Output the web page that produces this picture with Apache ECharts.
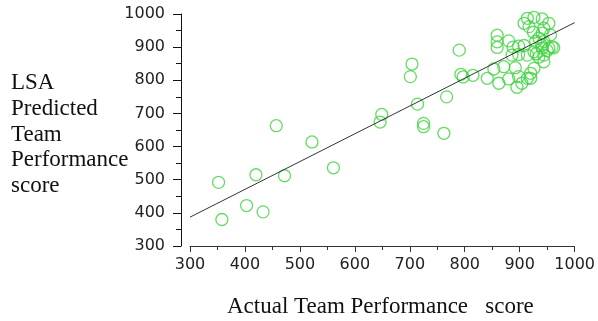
<!DOCTYPE html>
<html>
<head>
<meta charset="utf-8">
<style>
  html, body { margin: 0; padding: 0; background: #fff; }
  #chart { width: 598px; height: 321px; }
</style>
<script src="https://cdn.jsdelivr.net/npm/echarts@6/dist/echarts.min.js"></script>
</head>
<body>
<div id="chart"></div>
<script>
// actual score vs LSA predicted score, one pair per team
const actualScores = [
  352, 358, 403, 420, 433, 457, 472, 522, 561, 646, 649, 701, 704, 714, 725, 725,
  762, 767, 790, 793, 797,
  815, 841, 853, 862, 871, 880, 892, 895, 898, 904, 914, 920,
  859, 859, 859, 880, 886, 898, 914, 888, 898, 908,
  908, 914, 917, 926, 941, 953, 944, 956, 941, 935, 944, 929, 953, 941, 926, 944,
  959, 944, 926, 920, 930, 935, 950, 962, 940, 925
]
const predictedScores = [
  492, 380, 422, 515, 403, 663, 512, 614, 536, 674, 697, 811, 849, 728, 670, 660,
  640, 750, 891, 818, 810,
  815, 806, 834, 791, 841, 804, 838, 779, 811, 791, 806, 821,
  936, 916, 899, 919, 876, 878, 876, 900, 903, 905,
  972, 987, 962, 990, 985, 972, 957, 937, 942, 927, 917, 917, 897, 897, 886, 876,
  901, 856, 836, 806, 880, 870, 890, 898, 905, 945
]
// fitted line end points
const fitX = [300, 1000]
const fitY = [387, 974]

const xTicks = [300, 400, 500, 600, 700, 800, 900, 1000]
const yTicks = [300, 400, 500, 600, 700, 800, 900, 1000]

const chart = echarts.init(document.getElementById('chart'))

chart.setOption({
  animation: false,
  grid: { left: 190, right: 22, top: 14, bottom: 75 },
  xAxis: {
    type: 'value',
    min: xTicks[0],
    max: xTicks[xTicks.length - 1],
    interval: 100,
    axisLine: { show: true, lineStyle: { color: '#333', width: 1 } },
    axisTick: { show: true, length: 6, lineStyle: { color: '#333' } },
    minorTick: { show: true, splitNumber: 2, length: 4, lineStyle: { color: '#333' } },
    splitLine: { show: false },
    axisLabel: {
      color: '#222', fontFamily: 'DejaVu Sans', fontSize: 16, margin: 11,
      formatter: (v) => String(v),
    },
  },
  yAxis: {
    type: 'value',
    min: yTicks[0],
    max: yTicks[yTicks.length - 1],
    interval: 100,
    offset: 9,
    axisLine: { show: true, lineStyle: { color: '#111', width: 1 } },
    axisTick: { show: true, length: 8, lineStyle: { color: '#111' } },
    minorTick: { show: true, splitNumber: 2, length: 5, lineStyle: { color: '#111' } },
    splitLine: { show: false },
    axisLabel: {
      color: '#222', fontFamily: 'DejaVu Sans', fontSize: 16, margin: 16,
      formatter: (v) => String(v),
    },
  },
  graphic: [
    {
      type: 'text',
      left: 11,
      top: 70,
      style: {
        text: 'LSA\nPredicted\nTeam\nPerformance\nscore',
        font: '23px "Liberation Serif"',
        lineHeight: 25.8,
        fill: '#111',
      },
    },
    {
      type: 'text',
      left: 227,
      top: 295,
      style: {
        text: 'Actual Team Performance   score',
        font: '23px "Liberation Serif"',
        fill: '#111',
      },
    },
  ],
  series: [
    {
      type: 'line',
      data: fitX.map((x, i) => [x, fitY[i]]),
      symbol: 'none',
      lineStyle: { color: '#333', width: 1 },
      z: 3,
    },
    {
      type: 'scatter',
      data: actualScores.map((x, i) => [x, predictedScores[i]]),
      symbol: 'circle',
      symbolSize: 12,
      itemStyle: { color: 'rgba(0,0,0,0)', borderColor: '#3fd23f', borderWidth: 1.3 },
      z: 2,
    },
  ],
})
</script>
</body>
</html>
